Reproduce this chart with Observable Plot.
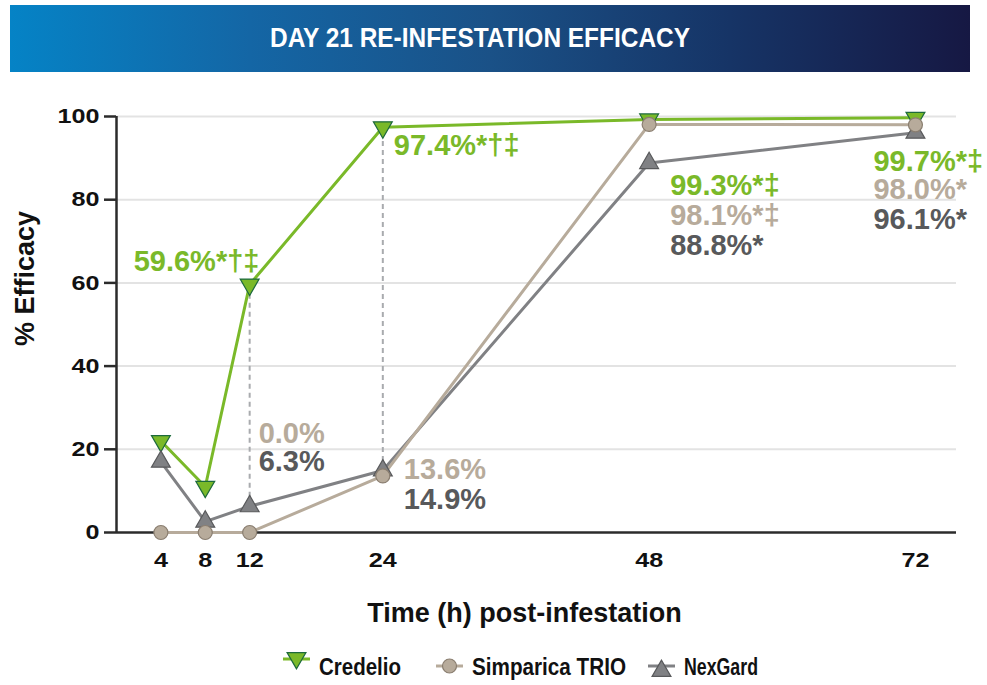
<!DOCTYPE html>
<html>
<head>
<meta charset="utf-8">
<script src="https://cdn.jsdelivr.net/npm/d3@7"></script>
<script src="https://cdn.jsdelivr.net/npm/@observablehq/plot@0.6"></script>
<style>
  body { margin: 0; background: #fff; width: 987px; height: 685px; overflow: hidden; font-family: "Liberation Sans", Arial, Helvetica, sans-serif; }
  #header { position: relative; height: 80px; }
  #band { position: absolute; left: 10px; top: 5px; width: 960px; height: 67px;
    background: linear-gradient(90deg, #0583c6 0%, #1466a5 25%, #1a5187 50%, #163466 75%, #161843 100%); }
  #band svg { display: block; }
  #chart { height: 565px; }
  #legend { display: block; }
</style>
</head>
<body>
<div id="header"><div id="band"><svg width="960" height="67"><text x="470" y="42" text-anchor="middle" fill="#fff"
  font-family="Liberation Sans, Arial, sans-serif" font-weight="bold" font-size="28" textLength="420" lengthAdjust="spacingAndGlyphs">DAY 21 RE-INFESTATION EFFICACY</text></svg></div></div>
<div id="chart"></div>
<svg id="legend" width="987" height="40"></svg>
<script>
// ---- data ----
const hours = [4, 8, 12, 24, 48, 72];
const credelio = [22, 11, 59.6, 97.4, 99.3, 99.7];
const simparica = [0, 0, 0, 13.6, 98.1, 98.0];
const nexgard = [17, 2.6, 6.3, 14.9, 88.8, 96.1];
const seriesNames = ["Credelio", "Simparica TRIO", "NexGard"];
const yTicks = [0, 20, 40, 60, 80, 100];
const dashedHours = [12, 24];
const labelHours = [12, 24, 12, 12, 24, 24, 48, 48, 48, 72, 72, 72];
const labelSeries = ["Credelio", "Credelio", "Simparica TRIO", "NexGard", "Simparica TRIO", "NexGard",
  "Credelio", "Simparica TRIO", "NexGard", "Credelio", "Simparica TRIO", "NexGard"];
const labelText = ["59.6%*†‡", "97.4%*†‡", "0.0%", "6.3%", "13.6%", "14.9%",
  "99.3%*‡", "98.1%*‡", "88.8%*", "99.7%*‡", "98.0%*", "96.1%*"];

// ---- build ----
const valuesBySeries = {"Credelio": credelio, "Simparica TRIO": simparica, "NexGard": nexgard};
const rows = seriesNames.flatMap(s => hours.map((h, i) => ({series: s, hour: h, value: valuesBySeries[s][i]})));
const valueAt = (s, h) => valuesBySeries[s][hours.indexOf(h)];

const style = {
  "Credelio": {line: "#7ab929", fill: "#7ab929", stroke: "#1d6a3c", text: "#7ab929"},
  "Simparica TRIO": {line: "#b7ab9b", fill: "#b7ab9b", stroke: "#8a7e70", text: "#b7ab9b"},
  "NexGard": {line: "#808184", fill: "#808184", stroke: "#58595b", text: "#58595b"}
};
const s3 = Math.sqrt(3);
const triangleDown = {draw(context, size) {
  const y = Math.sqrt(size / (s3 * 3));
  context.moveTo(0, 2 * y); context.lineTo(-s3 * y, -y); context.lineTo(s3 * y, -y); context.closePath();
}};
const symbols = {"Credelio": triangleDown, "Simparica TRIO": "circle", "NexGard": "triangle"};

// label layout offsets (pixels from the anchored data point)
const labelOffsets = [[-116, -14], [11, 28], [9, -90], [9, -35], [21, 3], [21, 38],
  [21, 76], [21, 101], [21, 92], [-42, 53], [-42, 74], [-42, 96]];

const xMax = 75.7;
const drawOrder = ["Credelio", "NexGard", "Simparica TRIO"];

const marks = [
  Plot.ruleY(yTicks.slice(1), {stroke: "#e3e3e3", strokeWidth: 2}),
  Plot.ruleX(dashedHours, {x: d => d, y1: d => valueAt("NexGard", d), y2: d => valueAt("Credelio", d),
    stroke: "#a9abae", strokeWidth: 2, strokeDasharray: "5,4"}),
  Plot.ruleY([0], {x1: 0, x2: xMax, stroke: "#2b2b2b", strokeWidth: 2.5}),
  Plot.ruleX([0], {y1: 0, y2: 100, stroke: "#2b2b2b", strokeWidth: 2.5}),
  ...drawOrder.map(s => Plot.line(rows.filter(r => r.series === s), {x: "hour", y: "value",
    stroke: style[s].line, strokeWidth: 3})),
  ...drawOrder.map(s => Plot.dot(rows.filter(r => r.series === s), {x: "hour", y: "value",
    symbol: symbols[s], r: 7, fill: style[s].fill, stroke: style[s].stroke, strokeWidth: 1.2})),
  Plot.axisY({ticks: yTicks, tickSize: 12, tickPadding: 5, fontSize: 21, fontWeight: "bold",
    stroke: "#2b2b2b", strokeWidth: 2.5, label: null}),
  Plot.axisX({ticks: hours, tickSize: 0, tickPadding: 20, fontSize: 21, fontWeight: "bold", label: null}),
  Plot.text(["% Efficacy"], {frameAnchor: "top-left", rotate: -90, dx: -91, dy: 162,
    fontSize: 27, fontWeight: "bold", lineAnchor: "middle", textAnchor: "middle", fill: "#111", ariaLabel: "ytitle"}),
  Plot.text(["Time (h) post-infestation"], {frameAnchor: "bottom", dx: -12, dy: 89,
    fontSize: 27, fontWeight: "bold", lineAnchor: "bottom", fill: "#111", ariaLabel: "xtitle"}),
  ...labelText.map((t, i) => Plot.text([t], {
    x: () => labelHours[i], y: () => valueAt(labelSeries[i], labelHours[i]), text: d => d,
    dx: labelOffsets[i][0], dy: labelOffsets[i][1], textAnchor: "start", lineAnchor: "bottom",
    fontSize: 29, fontWeight: "bold", fill: style[labelSeries[i]].text, ariaLabel: "annotation"}))
];

const svg = Plot.plot({
  width: 987, height: 565,
  marginLeft: 116, marginRight: 31, marginTop: 36, marginBottom: 113,
  x: {domain: [0, xMax]},
  y: {domain: [0, 100]},
  style: {fontFamily: '"Liberation Sans", Arial, Helvetica, sans-serif', fontSize: "21px", fontWeight: "bold",
    color: "#111", background: "#fff", overflow: "visible"},
  marks
});
svg.querySelectorAll('g[aria-label="annotation"] text').forEach(el => {
  const t = el.textContent; const k = t.indexOf("%") + 1;
  const sup = t.slice(k);
  if (sup) {
    el.textContent = t.slice(0, k);
    const ts = document.createElementNS("http://www.w3.org/2000/svg", "tspan");
    ts.setAttribute("font-size", "18"); ts.setAttribute("dy", "-8"); ts.setAttribute("dx", "1");
    ts.textContent = sup; el.appendChild(ts);
  }
});
svg.querySelectorAll('g[aria-label="xtitle"] text').forEach(el => { el.setAttribute("textLength", 357); el.setAttribute("lengthAdjust", "spacingAndGlyphs"); });
svg.querySelectorAll('g[aria-label="ytitle"] text').forEach(el => { el.setAttribute("textLength", 157); el.setAttribute("lengthAdjust", "spacingAndGlyphs"); });
// widen tick labels to the reference's broader digits
svg.querySelectorAll("text").forEach(el => {
  const t = el.textContent.trim();
  if (/^\d+$/.test(t) && !el.closest('g[aria-label="annotation"]')) {
    el.setAttribute("textLength", t.length * 14);
    el.setAttribute("lengthAdjust", "spacingAndGlyphs");
  }
});
document.getElementById("chart").appendChild(svg);

// ---- legend ----
const leg = d3.select("#legend");
const legendItems = [
  {name: seriesNames[0], x0: 283, lineY: 14, sym: "down", symY: 13, w: 82},
  {name: seriesNames[1], x0: 436, lineY: 21, sym: "circle", symY: 21, w: 154},
  {name: seriesNames[2], x0: 648, lineY: 21, sym: "up", symY: 26, w: 74}
];
const sw = 27, hh = 5.44;
legendItems.forEach(it => {
  const st = style[it.name];
  const cx = it.x0 + sw / 2;
  leg.append("line").attr("x1", it.x0).attr("x2", it.x0 + sw).attr("y1", it.lineY).attr("y2", it.lineY)
    .attr("stroke", st.line).attr("stroke-width", 3);
  if (it.sym === "circle") {
    leg.append("circle").attr("cx", cx).attr("cy", it.symY).attr("r", 7).attr("fill", st.fill).attr("stroke", st.stroke).attr("stroke-width", 1.2);
  } else {
    const sgn = it.sym === "down" ? 1 : -1;
    const p = d3.path();
    p.moveTo(cx, it.symY + sgn * 2 * hh); p.lineTo(cx - s3 * hh, it.symY - sgn * hh); p.lineTo(cx + s3 * hh, it.symY - sgn * hh); p.closePath();
    leg.append("path").attr("d", p.toString()).attr("fill", st.fill).attr("stroke", st.stroke).attr("stroke-width", 1.2);
  }
  leg.append("text").attr("x", it.x0 + sw + 9).attr("y", 30).text(it.name)
    .attr("font-family", '"Liberation Sans", Arial, sans-serif')
    .attr("font-weight", "bold").attr("font-size", 24).attr("fill", "#111")
    .attr("textLength", it.w).attr("lengthAdjust", "spacingAndGlyphs");
});
</script>
</body>
</html>
